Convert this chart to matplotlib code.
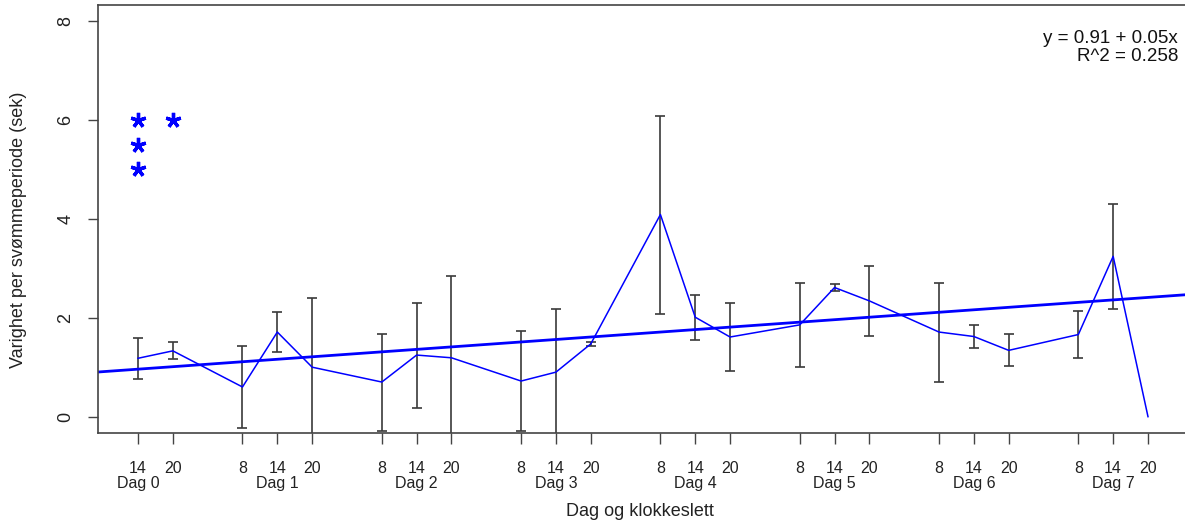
import numpy as np
import matplotlib.pyplot as plt
import matplotlib.transforms as mtransforms

plt.rcParams['font.family'] = ['Liberation Sans', 'DejaVu Sans']

# observation index (6 h steps from Dag 0 kl 14)
obs = [1, 2, 4, 5, 6, 8, 9, 10, 12, 13, 14, 16, 17, 18, 20, 21, 22, 24, 25, 26, 28, 29, 30]
hours = ['14', '20', '8', '14', '20', '8', '14', '20', '8', '14', '20', '8', '14', '20',
         '8', '14', '20', '8', '14', '20', '8', '14', '20']
mean_dur = [1.18, 1.33, 0.60, 1.71, 1.00, 0.70, 1.245, 1.19, 0.72, 0.90, 1.47, 4.085, 2.01,
            1.61, 1.855, 2.61, 2.34, 1.71, 1.62, 1.34, 1.66, 3.24, 0.0]
sd_dur = [0.41, 0.17, 0.83, 0.41, 1.40, 0.98, 1.06, 1.66, 1.01, 1.27, 0.04, 2.0, 0.455,
          0.68, 0.855, 0.065, 0.70, 1.0, 0.235, 0.325, 0.475, 1.055, 0.0]
day_pos = [1, 5, 9, 13, 17, 21, 25, 29]
day_labels = ['Dag %d' % i for i in range(8)]

# significance stars
star_x = [1, 1, 1, 2]
star_y = [6, 5.5, 5, 6]

# regression
intercept = 0.91
slope = 0.05
r2 = 0.258

fig = plt.figure(figsize=(11.85, 5.24), dpi=100)
ax = fig.add_axes([97.5 / 1185, 91.5 / 524, 1091 / 1185, 427.5 / 524])

ax.set_xlim(-0.163, 31.163)
ax.set_ylim(-0.32, 8.32)

# error bars without a marker line
eb_x = [o for o, s in zip(obs, sd_dur) if s > 0]
eb_y = [m for m, s in zip(mean_dur, sd_dur) if s > 0]
eb_e = [s for s in sd_dur if s > 0]
ax.errorbar(eb_x, eb_y, yerr=eb_e, fmt='none', ecolor='#3a3a3a', elinewidth=1.2,
            capsize=3.8, capthick=1.2)

ax.plot(obs, mean_dur, color='#0000ff', lw=1.1)

xx = np.array(ax.get_xlim())
ax.plot(xx, intercept + slope * xx, color='#0000ff', lw=2.0)

ax.plot(star_x, star_y, linestyle='none', marker=(5, 2, 0), markersize=11,
        markeredgewidth=2.4, color='#0000ff')

ax.text(0.9904, 0.9006, 'y = %.2f + %.2fx\nR^2 = %.3f' % (intercept, slope, r2),
        transform=ax.transAxes, ha='right', va='center', fontsize=13.5,
        linespacing=1.05, color='#111111')

# axes frame and ticks
for side in ['left', 'bottom', 'top']:
    ax.spines[side].set_color('#444444')
    ax.spines[side].set_linewidth(1.2)
ax.spines['right'].set_visible(False)

ax.set_yticks([0, 2, 4, 6, 8])
ax.set_yticklabels(['0', '2', '4', '6', '8'], rotation=90, va='center')
ax.tick_params(axis='y', length=7.5, width=1.0, color='#444444', labelsize=13,
               pad=9, labelcolor='#222222')

ax.set_xticks(obs)
ax.set_xticklabels(hours)
ax.tick_params(axis='x', length=8, width=1.0, color='#444444', labelsize=11.5,
               pad=12.5, labelcolor='#222222')

trans = mtransforms.blended_transform_factory(ax.transData, fig.transFigure)
for p, lab in zip(day_pos, day_labels):
    ax.text(p, 1 - 488 / 524, lab, transform=trans, ha='center', va='baseline',
            fontsize=11.5, color='#222222')

fig.text(0.5 + 0.5 * 97.5 / 1185 - 0.5 * 3.5 / 1185, 1 - 512 / 524, 'Dag og klokkeslett',
         ha='center', va='center', fontsize=13, color='#222222')
fig.text(19 / 1185, 1 - 230 / 524, 'Varighet per svømmeperiode (sek)', rotation=90,
         ha='center', va='center', fontsize=13, color='#222222')

fig.savefig('out.png', dpi=100)
